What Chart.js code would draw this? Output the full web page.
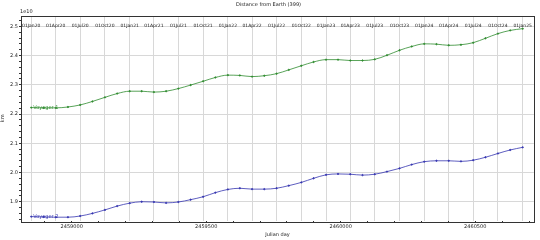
<!DOCTYPE html>
<html>
<head>
<meta charset="utf-8">
<script src="https://cdn.jsdelivr.net/npm/chart.js@4.4.0/dist/chart.umd.min.js"></script>
<style>
  html, body { margin: 0; padding: 0; background: #fff; }
  #wrap { width: 540px; height: 240px; }
</style>
</head>
<body>
<div id="wrap"><canvas id="chart"></canvas></div>
<script>
// Julian days of the samples (quarter starts and midpoints, 2020-2025)
const julianDays = [
  2458849.5, 2458895, 2458940.5, 2458986, 2459031.5, 2459077, 2459123.5, 2459169,
  2459215.5, 2459260, 2459305.5, 2459351, 2459396.5, 2459442, 2459488.5, 2459534,
  2459580.5, 2459625, 2459670.5, 2459716, 2459761.5, 2459807, 2459853.5, 2459899,
  2459945.5, 2459990, 2460035.5, 2460081, 2460126.5, 2460172, 2460218.5, 2460264,
  2460310.5, 2460356, 2460401.5, 2460447, 2460492.5, 2460538, 2460584.5, 2460630,
  2460676.5
];

// distance in units of 1e10 km
const voyager1 = [
  2.222, 2.221, 2.221, 2.224, 2.231, 2.243, 2.257, 2.270,
  2.278, 2.278, 2.275, 2.278, 2.287, 2.299, 2.312, 2.325,
  2.333, 2.332, 2.328, 2.331, 2.338, 2.351, 2.365, 2.378,
  2.386, 2.386, 2.383, 2.383, 2.387, 2.401, 2.418, 2.431,
  2.440, 2.439, 2.435, 2.437, 2.444, 2.459, 2.475, 2.486,
  2.492
];

const voyager2 = [
  1.849, 1.848, 1.847, 1.847, 1.851, 1.860, 1.872, 1.885,
  1.895, 1.900, 1.899, 1.896, 1.899, 1.907, 1.917, 1.931,
  1.942, 1.946, 1.943, 1.943, 1.946, 1.955, 1.966, 1.980,
  1.992, 1.995, 1.994, 1.991, 1.994, 2.003, 2.014, 2.027,
  2.037, 2.040, 2.040, 2.038, 2.042, 2.052, 2.065, 2.077,
  2.086
];

const dateTicks = [
  2458849.5, 2458940.5, 2459031.5, 2459123.5, 2459215.5, 2459305.5, 2459396.5,
  2459488.5, 2459580.5, 2459670.5, 2459761.5, 2459853.5, 2459945.5, 2460035.5,
  2460126.5, 2460218.5, 2460310.5, 2460401.5, 2460492.5, 2460584.5, 2460676.5
];
const dateLabels = [
  '01Jan20', '01Apr20', '01Jul20', '01Oct20', '01Jan21', '01Apr21', '01Jul21',
  '01Oct21', '01Jan22', '01Apr22', '01Jul22', '01Oct22', '01Jan23', '01Apr23',
  '01Jul23', '01Oct23', '01Jan24', '01Apr24', '01Jul24', '01Oct24', '01Jan25'
];

const seriesNames = ['Voyager 1', 'Voyager 2'];
const seriesColors = ['#2e8b2e', '#3535b0'];

const FONT = "'DejaVu Sans', sans-serif";
const TEXT = '#222';

function toPoints(values) {
  return values.map((v, i) => ({ x: julianDays[i], y: v }));
}

// frame, exponent label and the series names at the start of each curve
const extras = {
  id: 'extras',
  afterDatasetsDraw(chart) {
    const ctx = chart.ctx;
    const a = chart.chartArea;
    ctx.save();
    ctx.strokeStyle = '#333';
    ctx.lineWidth = 1;
    ctx.strokeRect(Math.round(a.left) + 0.5, Math.round(a.top) + 0.5,
      Math.round(a.right - a.left), Math.round(a.bottom - a.top));

    ctx.font = '5px ' + FONT;
    ctx.fillStyle = TEXT;
    ctx.textAlign = 'left';
    ctx.textBaseline = 'bottom';
    ctx.fillText('1e10', a.left - 1, a.top - 1);

    chart.data.datasets.forEach((ds, i) => {
      const p = chart.getDatasetMeta(i).data[0];
      ctx.fillStyle = seriesColors[i];
      ctx.textBaseline = 'middle';
      ctx.fillText(seriesNames[i], p.x + 2, p.y + 0.5);
    });
    ctx.restore();
  }
};

new Chart(document.getElementById('chart'), {
  type: 'line',
  data: {
    datasets: [
      {
        label: seriesNames[0],
        data: toPoints(voyager1),
        borderColor: seriesColors[0],
        backgroundColor: seriesColors[0],
        borderWidth: 0.8,
        pointRadius: 0.7,
        cubicInterpolationMode: 'monotone'
      },
      {
        label: seriesNames[1],
        data: toPoints(voyager2),
        borderColor: seriesColors[1],
        backgroundColor: seriesColors[1],
        borderWidth: 0.8,
        pointRadius: 0.7,
        cubicInterpolationMode: 'monotone'
      }
    ]
  },
  options: {
    responsive: true,
    maintainAspectRatio: false,
    animation: false,
    layout: { padding: { left: 0, right: 3, top: 0, bottom: 0 } },
    plugins: {
      legend: { display: false },
      tooltip: { enabled: false },
      title: {
        display: true,
        text: 'Distance from Earth (399)',
        color: TEXT,
        font: { family: FONT, size: 5, weight: 'normal' },
        padding: { top: 2, bottom: 0 }
      }
    },
    scales: {
      x: {
        type: 'linear',
        position: 'bottom',
        min: 2458811.5,
        max: 2460718,
        afterBuildTicks(scale) {
          const t = [];
          for (let v = 2458900; v <= 2460700; v += 100) t.push({ value: v });
          scale.ticks = t;
        },
        afterFit(scale) { scale.height = 19; },
        border: { display: false },
        grid: { drawOnChartArea: false, drawTicks: true, tickLength: 2, tickColor: '#333' },
        ticks: {
          autoSkip: false,
          maxRotation: 0,
          padding: 1,
          color: TEXT,
          font: { family: FONT, size: 5 },
          callback: (v) => (v % 500 === 0 ? String(v) : '')
        },
        title: {
          display: true,
          text: 'Julian day',
          color: TEXT,
          font: { family: FONT, size: 5 },
          padding: { top: 0, bottom: 2 }
        }
      },
      x2: {
        type: 'linear',
        position: 'top',
        min: 2458811.5,
        max: 2460718,
        afterBuildTicks(scale) {
          scale.ticks = dateTicks.map(v => ({ value: v }));
        },
        afterFit(scale) { scale.height = 7.5; },
        border: { display: false },
        grid: { color: '#d8d8d8', lineWidth: 1, drawTicks: false, tickLength: 0 },
        ticks: {
          autoSkip: false,
          maxRotation: 0,
          mirror: true,
          padding: 8,
          color: TEXT,
          font: { family: FONT, size: 4.5 },
          callback: (v, i) => dateLabels[i]
        }
      },
      y: {
        type: 'linear',
        min: 1.834,
        max: 2.537,
        afterBuildTicks(scale) {
          const t = [];
          for (let k = 92; k <= 126; k++) t.push({ value: k / 50 });
          scale.ticks = t;
        },
        afterFit(scale) { scale.width = 21; },
        border: { display: false },
        grid: {
          color: (c) => (Math.round(c.tick.value * 50) % 5 === 0 ? '#d8d8d8' : 'rgba(0,0,0,0)'),
          tickColor: '#333',
          tickLength: 2
        },
        ticks: {
          autoSkip: false,
          padding: 1,
          color: TEXT,
          font: { family: FONT, size: 5 },
          callback: (v) => (Math.round(v * 50) % 5 === 0 ? v.toFixed(1) : '')
        },
        title: {
          display: true,
          text: 'km',
          color: TEXT,
          font: { family: FONT, size: 5 },
          padding: { top: 0, bottom: 0 }
        }
      }
    }
  },
  plugins: [extras]
});
</script>
</body>
</html>
